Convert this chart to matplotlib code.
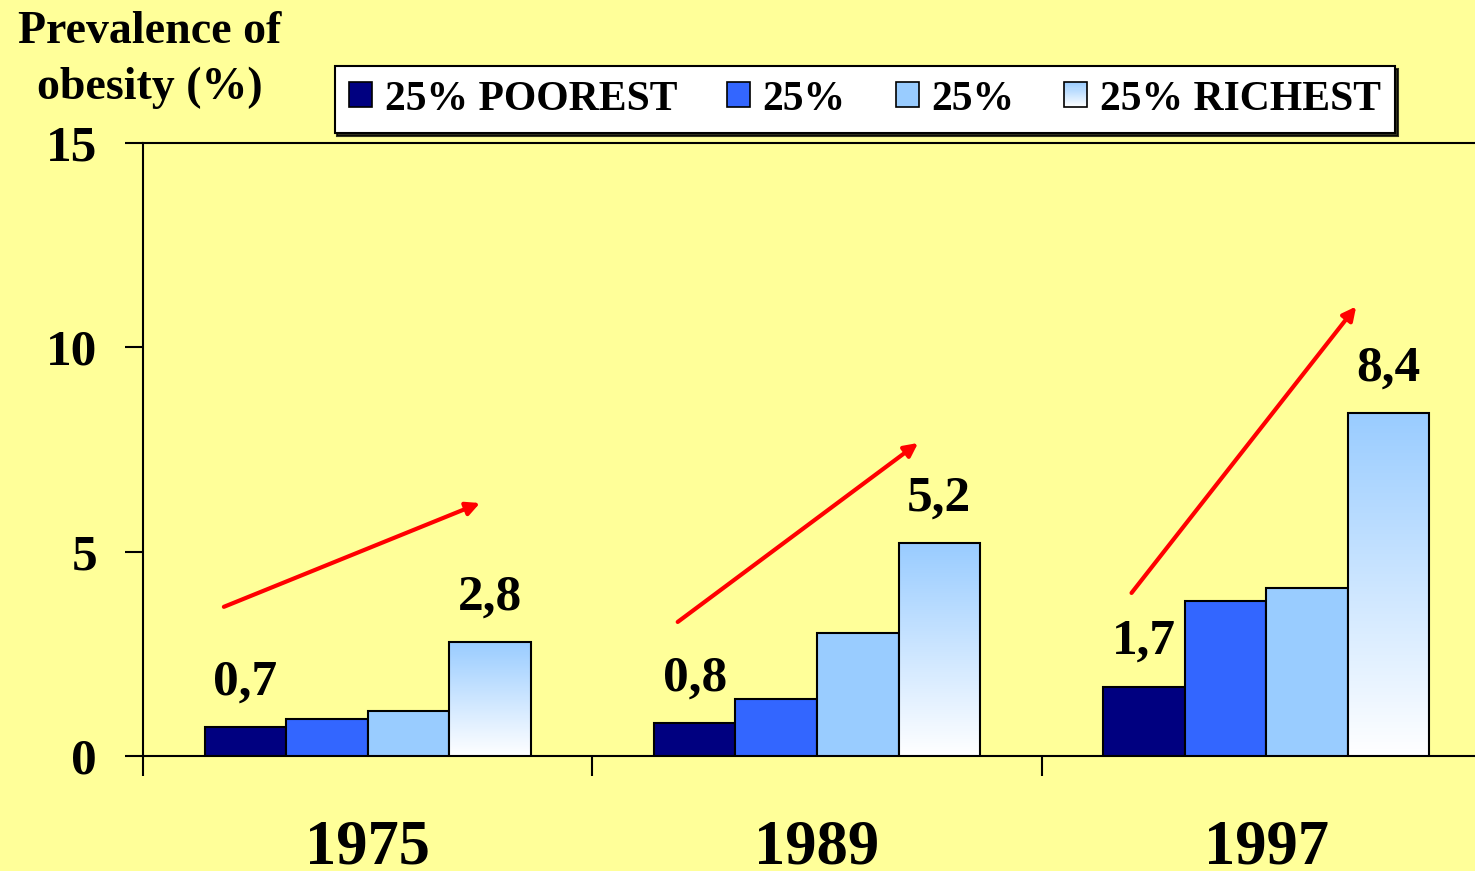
import numpy as np
import matplotlib
matplotlib.use("Agg")
import matplotlib.pyplot as plt
from matplotlib.patches import Rectangle
from matplotlib.legend_handler import HandlerBase
from matplotlib.colors import to_rgb

# ---- data ----
years = ["1975", "1989", "1997"]
series_names = ["25% POOREST", "25%", "25%", "25% RICHEST"]
poorest = [0.7, 0.8, 1.7]
second = [0.9, 1.4, 3.8]
third = [1.1, 3.0, 4.1]
richest = [2.8, 5.2, 8.4]
labeled_series = [0, 3]  # series with value labels
# trend arrows per year group: (dx_start, y_start, dx_end, y_end) relative to group centre
arrow_start_dx = [-0.32, -0.31, -0.30]
arrow_start_y = [3.65, 3.28, 3.99]
arrow_end_dx = [0.25, 0.225, 0.20]
arrow_end_y = [6.19, 7.66, 11.0]
yticks = [0, 5, 10, 15]

series = [poorest, second, third, richest]
colors = ["#000080", "#3366FF", "#99CCFF", None]
grad_top = "#99CCFF"
grad_bottom = "#FFFFFF"
BG = "#FFFF99"

plt.rcParams['font.family'] = ['Liberation Serif', 'DejaVu Serif']
plt.rcParams['font.weight'] = 'bold'

W, H = 1475, 871
fig = plt.figure(figsize=(W / 100, H / 100), dpi=100, facecolor=BG)
ax = fig.add_axes([143 / W, (871 - 756) / H, 1348 / W, (756 - 143) / H])
ax.set_facecolor(BG)

bw = 0.1815
x = np.arange(len(years))


def grad_img(n=256):
    c0 = np.array(to_rgb(grad_bottom))
    c1 = np.array(to_rgb(grad_top))
    t = np.linspace(0, 1, n)[:, None]
    img = c0 + (c1 - c0) * t
    return img[:, None, :]


for k, vals in enumerate(series):
    xs = x + (k - 1.5) * bw
    if colors[k] is not None:
        bars = ax.bar(xs, vals, width=bw, color=colors[k], edgecolor='black',
                      linewidth=1.5, zorder=3)
    else:
        bars = ax.bar(xs, vals, width=bw, color='none', edgecolor='black',
                      linewidth=1.5, zorder=4)
        for b in bars:
            x0 = b.get_x()
            im = ax.imshow(grad_img(), extent=[x0, x0 + b.get_width(), 0, b.get_height()],
                           origin='lower', aspect='auto', zorder=3, interpolation='bilinear')
            im.set_clip_path(b)
    if k in labeled_series:
        for xi, v in zip(xs, vals):
            ax.annotate(f"{v:.1f}".replace('.', ','), (xi, v), xytext=(0, 32),
                        textcoords='offset points', ha='center', va='center',
                        fontsize=37, fontweight='bold', zorder=6)

for i in range(len(years)):
    ax.annotate("", xy=(x[i] + arrow_end_dx[i], arrow_end_y[i]),
                xytext=(x[i] + arrow_start_dx[i], arrow_start_y[i]),
                arrowprops=dict(arrowstyle='-|>', color='#FF0000', lw=3,
                                mutation_scale=20, shrinkA=0, shrinkB=0),
                zorder=7)

ax.set_xlim(-0.5, len(years) - 0.5)
ax.set_ylim(0, 15)
ax.set_yticks(yticks)
ax.set_yticklabels([str(t) for t in yticks])
ax.tick_params(axis='y', direction='out', length=13, width=1.5, pad=20, labelsize=37)

ax.set_xticks(np.arange(len(years) + 1) - 0.5)
ax.set_xticklabels([])
ax.set_xticks(x, minor=True)
ax.set_xticklabels(years, minor=True)
ax.tick_params(axis='x', which='major', direction='out', length=14.4, width=1.5)
ax.tick_params(axis='x', which='minor', length=0, pad=46, labelsize=45)

for s in ['left', 'top', 'bottom', 'right']:
    ax.spines[s].set_linewidth(1.5)
    ax.spines[s].set_color('black')
for lab in ax.get_xticklabels(minor=True) + ax.get_yticklabels():
    lab.set_fontweight('bold')


class GradientHandler(HandlerBase):
    def create_artists(self, legend, orig_handle, xdescent, ydescent, width, height,
                       fontsize, trans):
        n = 24
        c0 = np.array(to_rgb(grad_bottom))
        c1 = np.array(to_rgb(grad_top))
        arts = []
        for i in range(n):
            t = (i + 0.5) / n
            arts.append(Rectangle((-xdescent, -ydescent + i * height / n), width, height / n,
                                  facecolor=c0 + (c1 - c0) * t, edgecolor='none',
                                  transform=trans))
        arts.append(Rectangle((-xdescent, -ydescent), width, height, facecolor='none',
                              edgecolor='black', linewidth=1.2, transform=trans))
        return arts


handles = [Rectangle((0, 0), 1, 1, facecolor=c, edgecolor='black', linewidth=1.2)
           for c in colors[:3]]
grad_handle = Rectangle((0, 0), 1, 1, facecolor='none', edgecolor='black')
handles.append(grad_handle)

leg = fig.legend(handles, series_names, loc='center',
                 bbox_to_anchor=((333 + 1397) / 2 / W, 1 - (66 + 133) / 2 / H),
                 ncol=4, prop={'weight': 'bold', 'size': 30},
                 handlelength=0.55, handleheight=0.55, handletextpad=0.3,
                 columnspacing=1.2, borderpad=0.35, frameon=True, fancybox=False,
                 shadow={'color': 'black', 'alpha': 0.8},
                 handler_map={grad_handle: GradientHandler()})
leg.get_frame().set_edgecolor('black')
leg.get_frame().set_linewidth(1.5)
leg.get_frame().set_facecolor('white')

fig.text(150 / W, 1 - 60 / H, "Prevalence of\nobesity (%)", ha='center', va='center',
         multialignment='center', fontsize=33, fontweight='bold', linespacing=1.42)

fig.savefig("out.png", dpi=100, facecolor=BG)
